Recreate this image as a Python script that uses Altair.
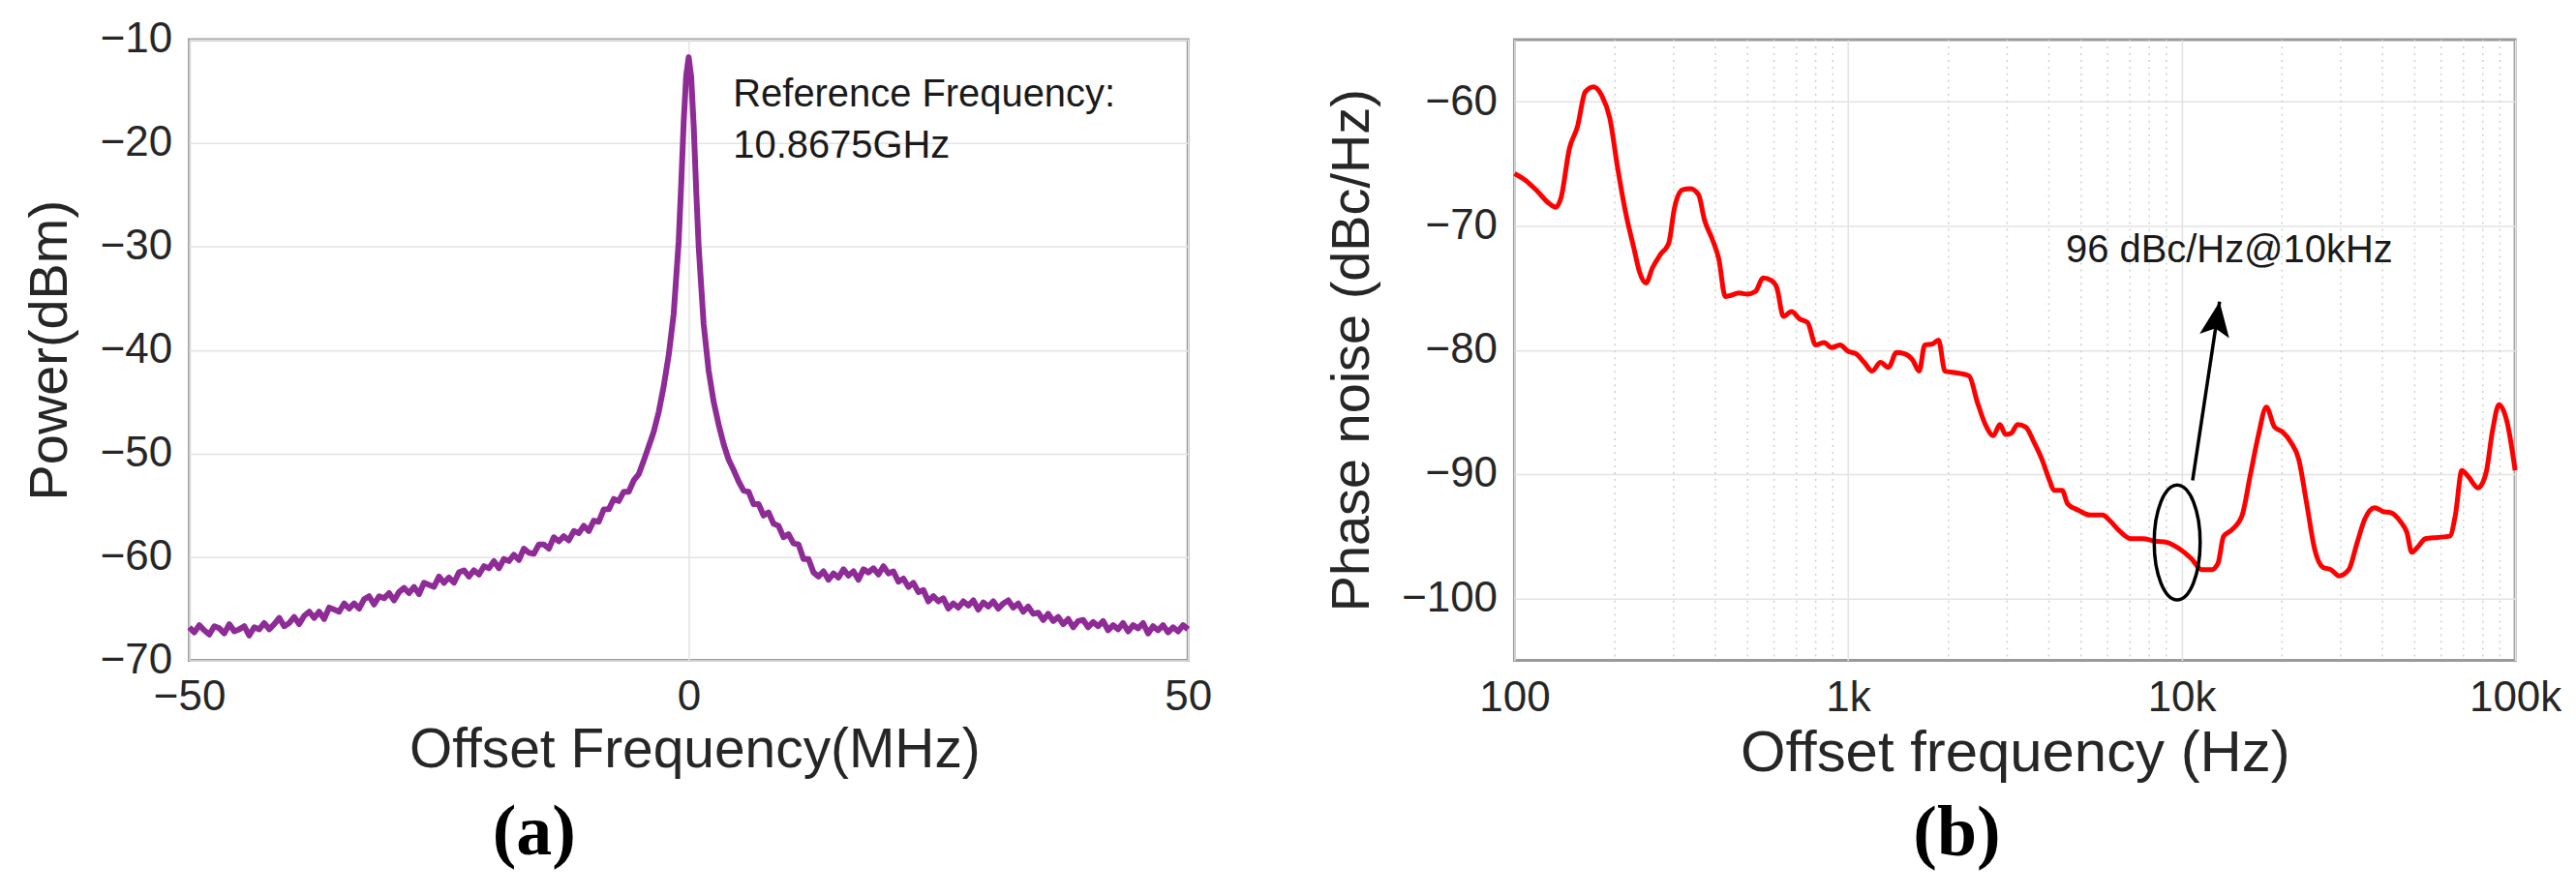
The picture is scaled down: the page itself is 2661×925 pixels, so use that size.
import altair as alt
import pandas as pd

# ---------------- Panel (a): RF spectrum ----------------
spec_freq_mhz = [
    -50.0, -49.5, -49.0, -48.5, -48.0, -47.5, -47.0, -46.5, -46.0, -45.5,
    -45.0, -44.5, -44.0, -43.5, -43.0, -42.5, -42.0, -41.5, -41.0, -40.5,
    -40.0, -39.5, -39.0, -38.5, -38.0, -37.5, -37.0, -36.5, -36.0, -35.5,
    -35.0, -34.5, -34.0, -33.5, -33.0, -32.5, -32.0, -31.5, -31.0, -30.5,
    -30.0, -29.5, -29.0, -28.5, -28.0, -27.5, -27.0, -26.5, -26.0, -25.5,
    -25.0, -24.5, -24.0, -23.5, -23.0, -22.5, -22.0, -21.5, -21.0, -20.5,
    -20.0, -19.5, -19.0, -18.5, -18.0, -17.5, -17.0, -16.5, -16.0, -15.5,
    -15.0, -14.5, -14.0, -13.5, -13.0, -12.5, -12.0, -11.5, -11.0, -10.5,
    -10.0, -9.5, -9.0, -8.5, -8.0, -7.5, -7.0, -6.5, -6.0, -5.5,
    -5.0, -4.5, -4.0, -3.5, -3.0, -2.5, -2.0, -1.5, -1.0, -0.75, -0.5, -0.25,
    0.0, 0.25, 0.5, 0.75, 1.0, 1.5, 2.0, 2.5, 3.0, 3.5, 4.0, 4.5, 5.0,
    5.5, 6.0, 6.5, 7.0, 7.5, 8.0, 8.5, 9.0, 9.5, 10.0,
    10.5, 11.0, 11.5, 12.0, 12.5, 13.0, 13.5, 14.0, 14.5, 15.0,
    15.5, 16.0, 16.5, 17.0, 17.5, 18.0, 18.5, 19.0, 19.5, 20.0,
    20.5, 21.0, 21.5, 22.0, 22.5, 23.0, 23.5, 24.0, 24.5, 25.0,
    25.5, 26.0, 26.5, 27.0, 27.5, 28.0, 28.5, 29.0, 29.5, 30.0,
    30.5, 31.0, 31.5, 32.0, 32.5, 33.0, 33.5, 34.0, 34.5, 35.0,
    35.5, 36.0, 36.5, 37.0, 37.5, 38.0, 38.5, 39.0, 39.5, 40.0,
    40.5, 41.0, 41.5, 42.0, 42.5, 43.0, 43.5, 44.0, 44.5, 45.0,
    45.5, 46.0, 46.5, 47.0, 47.5, 48.0, 48.5, 49.0, 49.5, 50.0]
spec_power_dbm = [
    -66.8, -67.3, -66.6, -67.1, -67.5, -66.7, -66.9, -67.4, -66.5, -67.2,
    -67.0, -66.7, -67.6, -66.8, -67.0, -66.4, -67.0, -66.5, -65.9, -66.7,
    -66.4, -65.8, -66.5, -65.7, -65.3, -65.9, -65.3, -66.0, -64.9, -65.1,
    -65.3, -64.5, -65.0, -64.5, -65.0, -64.1, -63.8, -64.6, -63.8, -64.0,
    -63.5, -64.2, -63.4, -63.0, -63.5, -62.9, -63.6, -62.5, -62.7, -62.9,
    -61.9, -62.5, -62.0, -62.5, -61.5, -61.3, -61.9, -61.3, -61.7, -60.9,
    -61.1, -60.4, -61.1, -60.2, -60.4, -59.8, -60.3, -59.2, -59.6, -59.7,
    -58.8, -58.8, -59.2, -58.1, -58.5, -58.0, -58.4, -57.5, -57.7, -57.0,
    -57.5, -56.5, -56.6, -55.4, -55.4, -54.4, -54.6, -53.7, -53.7, -52.6,
    -52.0, -50.7, -49.3, -47.9, -46.0, -43.5, -40.5, -36.5, -29.5, -24.0, -18.0, -13.5,
    -11.7, -13.6, -18.3, -24.5, -30.0, -37.5, -42.0, -45.0, -47.2, -49.1, -50.6, -51.6, -52.7,
    -53.6, -53.7, -54.9, -54.9, -56.0, -55.7, -56.8, -57.0, -58.1, -57.8,
    -58.7, -58.8, -60.2, -60.2, -61.5, -61.9, -61.4, -62.2, -61.6, -62.0,
    -61.2, -61.8, -61.4, -62.2, -61.2, -61.5, -61.1, -61.7, -60.9, -61.6,
    -61.4, -62.4, -62.1, -62.9, -62.5, -63.4, -63.2, -64.3, -63.8, -64.3,
    -64.0, -65.0, -64.5, -64.9, -64.3, -64.7, -64.2, -65.1, -64.4, -64.8,
    -64.3, -65.0, -64.5, -64.2, -64.9, -64.5, -65.3, -64.8, -65.5, -65.4,
    -66.1, -65.5, -66.2, -65.8, -66.5, -66.0, -66.8, -66.2, -66.1, -66.8,
    -66.3, -66.7, -66.2, -67.1, -66.6, -67.0, -66.4, -67.2, -66.6, -66.9,
    -66.4, -67.4, -66.7, -67.1, -66.6, -67.3, -66.8, -67.2, -66.6, -67.0]
x_ticks_a = [-50, 0, 50]
y_ticks_a = [-70, -60, -50, -40, -30, -20, -10]
note_a_text = ["Reference Frequency:", "10.8675GHz"]
note_a_x = [4.45, 4.45]
note_a_y = [-16.5, -21.4]

# ---------------- Panel (b): phase noise ----------------
pn_freq_hz = [100, 107.5, 117, 127, 133, 138, 146, 154.5, 163, 172.7, 182.6, 193, 204, 216, 228,
              237, 248, 259, 274, 290, 301.5, 319, 337, 356.5, 371, 392, 410, 428.5, 445.5, 471,
              498, 527, 557, 589, 612, 640, 677, 716, 757, 800, 846, 894, 946, 1000, 1057, 1118,
              1182, 1250, 1322, 1397, 1477, 1562, 1634, 1698, 1796, 1867, 1953, 2064, 2183, 2308,
              2441, 2580, 2728, 2852, 2967, 3084, 3225, 3410, 3606, 3812, 4031, 4145, 4382, 4557,
              4898, 5325, 5790, 6122, 6473, 7039, 7653, 8321, 9046, 9834, 10692, 11495, 12290,
              12853, 13364, 14130, 15195, 16064, 16982, 17956, 18986, 20075, 21227, 22443, 23729,
              25088, 26527, 28052, 29661, 31709, 33527, 35449, 37902, 40076, 42371, 45560, 47370,
              48988, 50933, 53853, 58558, 63673, 66200, 69223, 72382, 77374, 81809, 85543, 89446,
              94585, 100000]
pn_dbc_hz = [-65.8, -66.3, -67.2, -68.2, -68.5, -67.7, -63.8, -62.0, -59.2, -58.8, -59.5, -61.3,
             -65.4, -69.1, -71.8, -73.7, -74.6, -73.4, -72.3, -71.4, -68.6, -67.1, -67.0, -67.5,
             -69.5, -71.1, -72.7, -75.7, -75.6, -75.4, -75.5, -75.3, -74.2, -74.4, -75.0, -77.3,
             -76.9, -77.5, -77.8, -79.6, -79.4, -79.8, -79.6, -80.1, -80.3, -81.0, -81.7, -81.0,
             -81.4, -80.2, -80.3, -80.8, -81.7, -79.6, -79.5, -79.2, -81.7, -81.8, -81.9, -82.1,
             -84.2, -86.0, -86.9, -86.0, -86.8, -86.7, -86.0, -86.2, -87.4, -88.8, -90.6, -91.3,
             -91.3, -92.4, -92.9, -93.3, -93.3, -93.8, -94.5, -95.2, -95.2, -95.4, -95.5, -96.0,
             -96.8, -97.7, -97.7, -97.2, -95.0, -94.5, -93.3, -90.1, -86.9, -84.6, -86.2, -86.6,
             -87.4, -88.8, -92.4, -96.1, -97.5, -97.7, -98.2, -97.7, -95.6, -93.6, -92.7, -93.0,
             -93.1, -93.9, -94.7, -96.3, -95.9, -95.2, -95.1, -95.0, -93.3, -89.7, -90.2, -91.1,
             -89.9, -86.5, -84.4, -85.8, -89.7]
x_ticks_b = [100, 1000, 10000, 100000]
x_minor_b = [200, 300, 400, 500, 600, 700, 800, 900,
             2000, 3000, 4000, 5000, 6000, 7000, 8000, 9000,
             20000, 30000, 40000, 50000, 60000, 70000, 80000, 90000]
y_ticks_b = [-100, -90, -80, -70, -60]
note_b_text = ["96 dBc/Hz@10kHz"]
note_b_x = [4500]
note_b_y = [-72.9]
ellipse_x = [9700]
ellipse_y = [-95.5]
arrow_x = [10790]
arrow_y = [-90.5]
arrow_x2 = [13000]
arrow_y2 = [-76.1]

FONT = "Liberation Sans"
TXT = "#262626"
GRID = "#e3e3e3"


def axis(values, title, **kw):
    base = dict(values=values, title=title, grid=True, gridColor=GRID, gridWidth=1.5,
                ticks=False, tickSize=0, domain=False, labelFlush=False, labelOverlap=False,
                labelFont=FONT, labelFontSize=44, labelColor=TXT,
                titleFont=FONT, titleColor=TXT, titleFontWeight="normal",
                titleBaseline="alphabetic", titleAlign="center")
    base.update(kw)
    return alt.Axis(**base)


W_A, H = 1034, 643
W_B = 1036

# ---- panel a
df_a = pd.DataFrame({"f": spec_freq_mhz, "p": spec_power_dbm})
xa = alt.X("f:Q", scale=alt.Scale(domain=[-50, 50], nice=False, zero=False),
           axis=axis(x_ticks_a, "Offset Frequency(MHz)", labelPadding=16, titleFontSize=57,
                     titleY=110, titleX=W_A / 2 + 6))
ya = alt.Y("p:Q", scale=alt.Scale(domain=[-70, -10], nice=False, zero=False),
           axis=axis(y_ticks_a, "Power(dBm)", labelPadding=18, titleFontSize=56,
                     titleAngle=270, titleX=-127, titleY=H / 2))
line_a = alt.Chart(df_a).mark_line(color="#8e2b96", strokeWidth=6, strokeJoin="round").encode(
    x=xa, y=ya)
df_na = pd.DataFrame({"f": note_a_x, "p": note_a_y, "t": note_a_text})
text_a = alt.Chart(df_na).mark_text(align="left", baseline="alphabetic", font=FONT,
                                    fontSize=40, color="#1a1a1a").encode(
    x="f:Q", y="p:Q", text="t:N")
panel_a = alt.layer(line_a, text_a).properties(
    width=W_A, height=H,
    title=alt.TitleParams("(a)", orient="bottom", anchor="middle", frame="group", dx=-160,
                          offset=22, font="Liberation Serif", fontSize=74, fontWeight="bold",
                          color="black"))

# ---- panel b
df_b = pd.DataFrame({"f": pn_freq_hz, "p": pn_dbc_hz})
xb_scale = alt.Scale(type="log", domain=[100, 100000], nice=False)
yb_scale = alt.Scale(domain=[-105, -55], nice=False, zero=False)
xb = alt.X("f:Q", scale=xb_scale,
           axis=axis(x_ticks_b, "Offset frequency (Hz)", labelPadding=17, titleFontSize=60,
                     titleY=114, titleX=W_B / 2,
                     labelExpr="datum.value >= 1000 ? format(datum.value / 1000, 'd') + 'k' : format(datum.value, 'd')"))
yb = alt.Y("p:Q", scale=yb_scale,
           axis=axis(y_ticks_b, "Phase noise (dBc/Hz)", labelPadding=18, titleFontSize=56,
                     titleAngle=270, titleX=-151, titleY=H / 2))

df_minor = pd.DataFrame({"f": x_minor_b})
minor = alt.Chart(df_minor).mark_rule(color="#cfcfcf", strokeWidth=1.5, strokeDash=[2, 5]).encode(
    x=alt.X("f:Q", scale=xb_scale))
line_b = alt.Chart(df_b).mark_line(color="#ff0000", strokeWidth=5, strokeJoin="round",
                                   interpolate="monotone").encode(x=xb, y=yb)

df_nb = pd.DataFrame({"f": note_b_x, "p": note_b_y, "t": note_b_text})
text_b = alt.Chart(df_nb).mark_text(align="left", baseline="alphabetic", font=FONT,
                                    fontSize=40, color="#1a1a1a").encode(
    x=alt.X("f:Q", scale=xb_scale), y=alt.Y("p:Q", scale=yb_scale), text="t:N")

df_ell = pd.DataFrame({"f": ellipse_x, "p": ellipse_y})
ellipse = alt.Chart(df_ell).mark_point(
    shape="M -0.4 0 A 0.4 1 0 1 0 0.4 0 A 0.4 1 0 1 0 -0.4 0 Z",
    size=14161, filled=False, stroke="black", strokeWidth=3.5, opacity=1).encode(
    x=alt.X("f:Q", scale=xb_scale), y=alt.Y("p:Q", scale=yb_scale))

df_arr = pd.DataFrame({"f": arrow_x, "p": arrow_y, "f2": arrow_x2, "p2": arrow_y2})
arrow_line = alt.Chart(df_arr).mark_rule(color="black", strokeWidth=3.5).encode(
    x=alt.X("f:Q", scale=xb_scale), y=alt.Y("p:Q", scale=yb_scale), x2="f2:Q", y2="p2:Q")
arrow_head = alt.Chart(df_arr).mark_point(
    shape="M 0 0 L 0.43 1 L 0 0.78 L -0.43 1 Z", size=5184, filled=True, color="black",
    opacity=1, angle=8.6).encode(
    x=alt.X("f2:Q", scale=xb_scale), y=alt.Y("p2:Q", scale=yb_scale))

panel_b = alt.layer(minor, line_b, ellipse, arrow_line, arrow_head, text_b).properties(
    width=W_B, height=H,
    title=alt.TitleParams("(b)", orient="bottom", anchor="middle", frame="group", dx=-60,
                          offset=18, font="Liberation Serif", fontSize=74, fontWeight="bold",
                          color="black"))

chart = alt.hconcat(panel_a, panel_b, spacing=114).properties(
    padding={"left": 14, "top": 8, "right": 5, "bottom": 5},
    background="white",
).configure_view(stroke="#9a9a9a", strokeWidth=3).configure_concat(spacing=114)

chart.save("out.html", embed_options={"renderer": "svg", "actions": False})
